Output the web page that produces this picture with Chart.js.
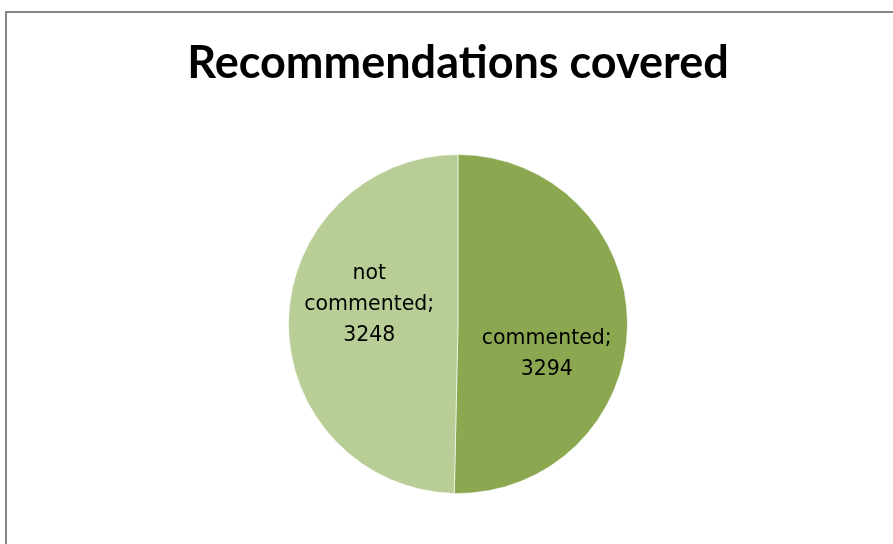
<!DOCTYPE html>
<html>
<head>
<meta charset="utf-8">
<script src="https://cdn.jsdelivr.net/npm/chart.js@4.4.1/dist/chart.umd.min.js"></script>
<style>
  html, body { margin: 0; padding: 0; background: #fff; }
  #wrap { position: relative; width: 893px; height: 544px; overflow: hidden; }
  #frame {
    position: absolute; left: 5px; top: 11px; width: 1000px; height: 1000px;
    border-left: 2px solid #868686; border-top: 2px solid #868686;
  }
  #chart { position: absolute; left: 0; top: 0; }
</style>
</head>
<body>
<div id="wrap">
  <div id="frame"></div>
  <canvas id="chart" width="893" height="544"></canvas>
</div>
<script>
// --------------------------
// data
// --------------------------
const chartTitle = "Recommendations covered";
const categories = ["commented", "not commented"];
const values = [3294, 3248];
const sliceColors = ["#8BA74F", "#B9CE97"];
// label lines (how the original wraps them) and small nudges from the slice centre
const labelLines = [["commented;", "3294"], ["not", "commented;", "3248"]];
const labelNudge = [[4, 29], [-4, -18]];

// --------------------------
// data labels plugin
// --------------------------
const sliceLabels = {
  id: "sliceLabels",
  afterDatasetsDraw(chart) {
    const ctx = chart.ctx;
    const meta = chart.getDatasetMeta(0);
    ctx.save();
    ctx.font = "20.5px 'DejaVu Sans'";
    ctx.fillStyle = "#000";
    ctx.textAlign = "center";
    ctx.textBaseline = "middle";
    const lh = 31;
    meta.data.forEach((arc, i) => {
      const p = arc.tooltipPosition();
      const lines = labelLines[i];
      const x = p.x + labelNudge[i][0];
      const y0 = p.y + labelNudge[i][1] - (lines.length - 1) * lh / 2;
      lines.forEach((t, k) => ctx.fillText(t, x, y0 + k * lh));
    });
    ctx.restore();
  }
};

new Chart(document.getElementById("chart").getContext("2d"), {
  type: "pie",
  data: {
    labels: categories,
    datasets: [{
      data: values,
      backgroundColor: sliceColors,
      borderColor: "rgba(255,255,255,0.6)",
      borderWidth: 1
    }]
  },
  options: {
    responsive: false,
    animation: false,
    layout: { padding: { left: 23, right: 0, top: 0, bottom: 50 } },
    plugins: {
      legend: { display: false },
      tooltip: { enabled: false },
      title: {
        display: true,
        text: chartTitle,
        color: "#000",
        font: { family: "Lato", size: 45, weight: "bold", lineHeight: 1.2 },
        padding: { top: 36, bottom: 64 }
      }
    }
  },
  plugins: [sliceLabels]
});
</script>
</body>
</html>
